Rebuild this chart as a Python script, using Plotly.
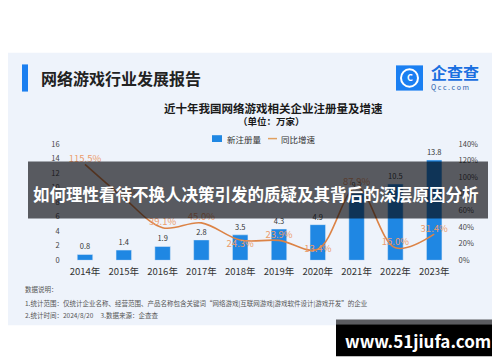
import plotly.graph_objects as go

W, H = 500, 362
FONT = "Noto Sans CJK SC"

years = ['2014年', '2015年', '2016年', '2017年', '2018年', '2019年', '2020年', '2021年', '2022年', '2023年']
new_reg = [0.8, 1.4, 1.9, 2.8, 3.5, 4.3, 4.9, 9.2, 10.5, 13.8]
growth = [115.5, 75.0, 39.1, 45.0, 24.3, 23.9, 13.4, 87.9, 15.0, 31.4]
growth_pos = ['top center', 'top center', 'top center', 'top center', 'bottom center',
              'top center', 'middle center', 'top center', 'top center', 'top center']
left_ticks = [0, 2, 4, 6, 8, 10, 12, 14, 16]
right_ticks = [0, 20, 40, 60, 80, 100, 120, 140]
right_labels = [f"{v}%" for v in right_ticks]


def px(x):
    return x / W


def py(y):
    return 1 - y / H


fig = go.Figure()
fig.add_trace(go.Bar(
    x=years, y=new_reg, name='新注册量', marker_color='#1f87e3',
    text=[f"{v:.1f}" for v in new_reg], textposition='outside',
    textfont=dict(size=7.5, color='#333333', family=FONT), cliponaxis=False,
    showlegend=False))
fig.add_trace(go.Scatter(
    x=years, y=growth, name='同比增速', yaxis='y2', mode='lines+text',
    line=dict(color='#dc8346', width=1.6, shape='spline', smoothing=1.0),
    text=[f"{g:.1f}%" for g in growth], textposition=growth_pos,
    textfont=dict(size=9.5, color='#ec9d6c', family=FONT), cliponaxis=False,
    showlegend=False))

shapes = [
    # card background
    dict(type='rect', xref='paper', yref='paper', x0=0, x1=1, y0=py(321), y1=py(40),
         fillcolor='#eef3fb', line_width=0, layer='below'),
    # header accent bar
    dict(type='rect', xref='paper', yref='paper', x0=px(14), x1=px(20), y0=py(80), y1=py(52),
         fillcolor='#1b7ff0', line_width=0, layer='below'),
    # logo square
    dict(type='rect', xref='paper', yref='paper', x0=px(388), x1=px(415), y0=py(79), y1=py(53),
         fillcolor='#1a7ff2', line_width=0, layer='below'),
    dict(type='circle', xref='paper', yref='paper', x0=px(393), x1=px(410), y0=py(75), y1=py(57),
         fillcolor='rgba(0,0,0,0)', line=dict(color='white', width=2), layer='below'),
    # legend marks
    dict(type='rect', xref='paper', yref='paper', x0=px(204), x1=px(214), y0=py(132), y1=py(125),
         fillcolor='#1f87e3', line_width=0, layer='below'),
    dict(type='line', xref='paper', yref='paper', x0=px(260), x1=px(269), y0=py(128.5), y1=py(128.5),
         line=dict(color='#e0a060', width=1.5), layer='below'),
    # overlay banner
    dict(type='rect', xref='paper', yref='paper', x0=px(20), x1=px(480), y0=py(211), y1=py(152),
         fillcolor='rgba(8,8,12,0.65)', line_width=0, layer='above'),
    # watermark box
    dict(type='rect', xref='paper', yref='paper', x0=px(328), x1=px(491), y0=py(320), y1=py(315),
         fillcolor='#5b5c60', line_width=0, layer='above'),
    dict(type='rect', xref='paper', yref='paper', x0=px(328), x1=px(491), y0=py(353), y1=py(320),
         fillcolor='#000000', line_width=0, layer='above'),
]


def ann(text, x, y, size, color, xanchor='left', bold=False):
    t = f"<b>{text}</b>" if bold else text
    return dict(text=t, x=px(x), y=py(y), xref='paper', yref='paper', showarrow=False,
                xanchor=xanchor, yanchor='middle', font=dict(size=size, color=color, family=FONT))


annotations = [
    ann('网络游戏行业发展报告', 31, 66, 16, '#222222', bold=True),
    ann('C', 401.5, 66, 9, 'white', xanchor='center', bold=True),
    ann('企查查', 421, 60, 16, '#1a6fe0', bold=True),
    ann('Q c c . c o m', 421, 75, 7, '#2a5fae'),
    ann('近十年我国网络游戏相关企业注册量及增速', 265, 97, 11.5, '#1a1a1a', xanchor='center', bold=True),
    ann('（单位：万家）', 263, 110, 9.5, '#1a1a1a', xanchor='center', bold=True),
    ann('新注册量', 217, 128.5, 8.5, '#333333'),
    ann('同比增速', 271, 128.5, 8.5, '#333333'),
    ann('数据说明：', 15, 284, 6.5, '#555555'),
    ann('1.统计范围：仅统计企业名称、经营范围、产品名称包含关键词“网络游戏|互联网游戏|游戏软件设计|游戏开发”的企业',
        15, 298, 6.5, '#555555'),
    ann('2.统计时间：2024/8/20&nbsp;&nbsp;&nbsp;&nbsp;&nbsp;3.数据来源：企查查', 15, 310, 6.5, '#555555'),
    ann('如何理性看待不换人决策引发的质疑及其背后的深层原因分析', 248, 186, 16.5, '#ffffff',
        xanchor='center', bold=True),
    ann('www.51jiufa.com', 409.5, 337, 17, '#ffffff', xanchor='center', bold=True),
]

fig.update_layout(
    width=W, height=H,
    margin=dict(l=0, r=0, t=0, b=0),
    paper_bgcolor='#ffffff', plot_bgcolor='rgba(0,0,0,0)',
    bargap=0.6,
    font=dict(family=FONT),
    xaxis=dict(domain=[px(57.6), px(445.6)], showgrid=False, showline=False, ticks='',
               tickfont=dict(size=9.5, color='#333333', family=FONT), ticklabelstandoff=4),
    yaxis=dict(range=[0, 16], tickvals=left_ticks, showgrid=False, zeroline=False,
               domain=[py(254), py(134)],
               tickfont=dict(size=7.5, color='#444444', family=FONT), ticklabelstandoff=5),
    yaxis2=dict(range=[0, 140], tickvals=right_ticks, ticktext=right_labels, overlaying='y',
                side='right', showgrid=False, zeroline=False,
                tickfont=dict(size=7.5, color='#444444', family=FONT), ticklabelstandoff=4),
    shapes=shapes, annotations=annotations,
)

fig.write_html("out.html")
